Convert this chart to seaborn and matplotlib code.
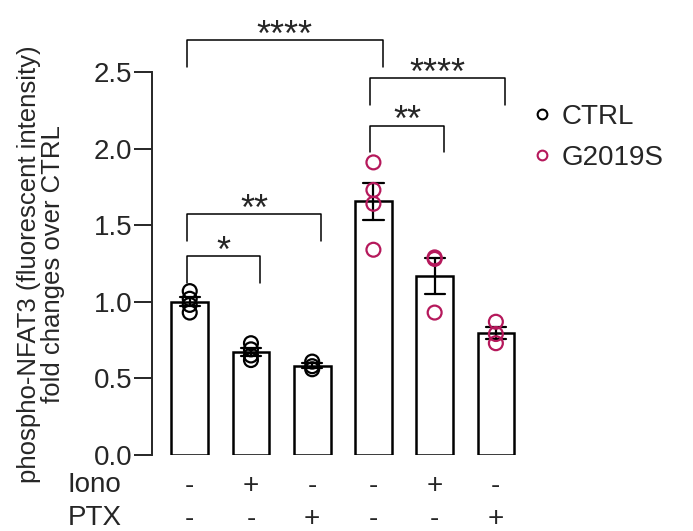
import pandas as pd
import matplotlib
matplotlib.use("Agg")
import matplotlib.pyplot as plt
from matplotlib.lines import Line2D
import seaborn as sns

# per-bar replicate values (fold change over CTRL)
conditions = ["c1", "c2", "c3", "c4", "c5", "c6"]
genotype = ["CTRL", "CTRL", "CTRL", "G2019S", "G2019S", "G2019S"]
values = [
    [1.07, 1.02, 0.98, 0.93],
    [0.73, 0.69, 0.65, 0.62],
    [0.61, 0.58, 0.56],
    [1.91, 1.73, 1.64, 1.34],
    [1.29, 1.28, 0.93],
    [0.87, 0.79, 0.73],
]
iono = ["-", "+", "-", "-", "+", "-"]
ptx = ["-", "-", "+", "-", "-", "+"]

# significance brackets: (left bar, right bar, bracket height, label)
sig_left = [0, 3, 3, 0, 0]
sig_right = [3, 5, 4, 2, 1]
sig_height = [2.71, 2.46, 2.15, 1.57, 1.30]
sig_label = ["****", "****", "**", "**", "*"]

colors = {"CTRL": "black", "G2019S": "#B5185B"}

rows = []
for c, g, vals in zip(conditions, genotype, values):
    for v in vals:
        rows.append({"cond": c, "geno": g, "val": v})
df = pd.DataFrame(rows)

sns.set_style("ticks")
plt.rcParams["font.family"] = ["Liberation Sans", "DejaVu Sans"]

fig = plt.figure(figsize=(6.93, 5.31), dpi=100)
ax = fig.add_axes([0.219, 0.143, 0.531, 0.808])

sns.barplot(data=df, x="cond", y="val", order=conditions, color="white",
            edgecolor="black", linewidth=1.8, width=0.6, errorbar="se",
            capsize=0.33, err_kws={"color": "black", "linewidth": 1.6}, ax=ax)
sns.stripplot(data=df, x="cond", y="val", hue="geno", order=conditions,
              palette=colors, jitter=False, size=10, linewidth=1.6,
              legend=False, ax=ax, zorder=5)
for coll in ax.collections:
    fc = coll.get_facecolors()
    coll.set_edgecolors(fc)
    coll.set_facecolors("none")

ax.set_ylim(0, 2.8)
ax.set_xlim(-0.62, 5.39)
ax.spines["left"].set_bounds(0, 2.5)
ax.spines["left"].set_linewidth(1.4)
for s in ["top", "right", "bottom"]:
    ax.spines[s].set_visible(False)
ax.set_yticks([0, 0.5, 1.0, 1.5, 2.0, 2.5])
ax.set_yticklabels(["0.0", "0.5", "1.0", "1.5", "2.0", "2.5"])
ax.tick_params(axis="y", labelsize=20, width=1.4, length=13, pad=1)
ax.set_xticks([])
ax.set_xlabel("")
ax.set_ylabel("phospho-NFAT3 (fluorescent intensity)\nfold changes over CTRL",
              fontsize=18.5, linespacing=1.0)
ax.yaxis.set_label_coords(-0.236, 0.446)

# treatment table under bars
tr = ax.get_xaxis_transform()
for i in range(len(conditions)):
    ax.text(i, -0.072, iono[i], transform=tr, ha="center", va="center", fontsize=20)
    ax.text(i, -0.148, ptx[i], transform=tr, ha="center", va="center", fontsize=20)
fig.text(0.098, 0.086, "Iono", ha="left", va="center", fontsize=20)
fig.text(0.098, 0.024, "PTX", ha="left", va="center", fontsize=20)

# significance brackets
leg = 0.175
for l, r, h, lab in zip(sig_left, sig_right, sig_height, sig_label):
    x0, x1 = l - 0.05, r + 0.15
    ax.plot([x0, x0, x1, x1], [h - leg, h, h, h - leg], color="black",
            linewidth=1.1, clip_on=False)
    ax.text((x0 + x1) / 2, h - 0.037, lab, ha="center", va="baseline",
            fontsize=26, clip_on=False)

handles = [Line2D([], [], marker="o", linestyle="none", markersize=7,
                  markerfacecolor="none", markeredgecolor=colors[k],
                  markeredgewidth=1.5) for k in ["CTRL", "G2019S"]]
fig.legend(handles, ["CTRL", "G2019S"], loc="upper left",
           bbox_to_anchor=(0.722, 0.852), frameon=False, fontsize=20,
           handletextpad=0.1, labelspacing=0.55, handlelength=1.2)

fig.savefig("out.png", dpi=100)
